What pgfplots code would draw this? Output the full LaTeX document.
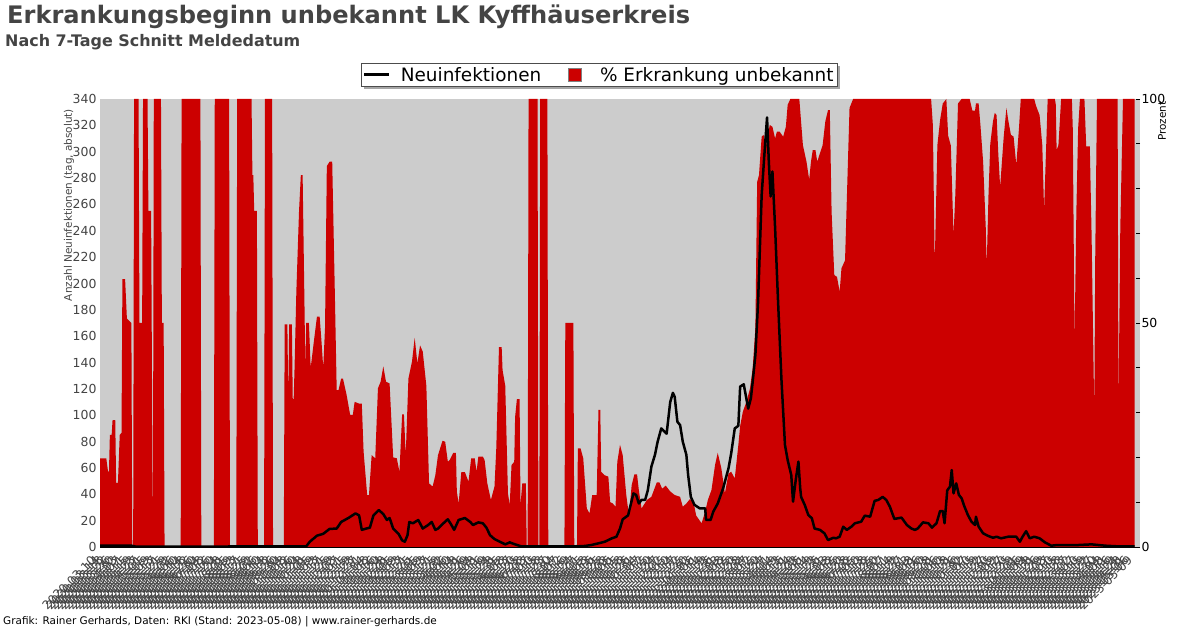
\documentclass[border=0pt]{standalone}
\usepackage{fontspec}
\setmainfont{DejaVu Sans}
\usepackage{pgfplots}
\pgfplotsset{compat=1.18}
\usepackage{pgfplotstable}
\usepackage{pgfcalendar}
\usetikzlibrary{backgrounds}

\definecolor{bg}{HTML}{CCCCCC}
\definecolor{cred}{HTML}{CC0000}
\definecolor{txt}{HTML}{444444}

% day 0 = 2020-03-10
\newcount\startjd
\newcount\curjd
\pgfcalendardatetojulian{2020-03-10}{\startjd}
\newcommand\daylabel[1]{%
  \pgfmathtruncatemacro\dayoff{#1}%
  \curjd=\startjd \advance\curjd by \dayoff\relax
  \pgfcalendarjuliantodate{\the\curjd}{\ly}{\lm}{\ld}%
  \ly-\lm-\ld}

% % Erkrankung unbekannt
\pgfplotstableread{
day pct
0 19.8
2 19.8
7 19.8
9 16.8
10 16.8
11 25
13 25
14 28.3
17 28.3
18 14.3
20 14.3
22 25
24 25.5
25 59.8
28 59.8
30 51
35 50
36 0
37 0
38 100
43 100
44 50
47 50
48 100
53 100
54 75
57 75
59 0
60 100
68 100
69 50
71 50
72 0
90 0
91 100
112 100
113 0
127 0
128 100
144 100
145 0
152 0
153 100
169 100
170 83
171 83
172 75
175 75
176 0
183 0
184 100
192 100
193 0
205 0
206 49.7
209 49.7
210 33
211 49.7
214 49.7
215 33
216 33
217 40
219 57
222 75
224 83
226 83
228 55
229 40
230 50
233 50
235 40
238 45
242 51.4
245 51.4
247 46
249 40
251 49
253 85
256 86
259 86
262 56
264 35
266 35
269 37.6
271 37.6
275 34
279 29.5
282 29.5
284 32.4
289 32
292 32
294 21.3
298 11.6
300 11.6
303 20.5
307 19.8
310 35.4
313 36.9
316 40.3
319 36.9
323 36.5
327 20
331 19.8
334 16.8
337 29.6
339 29.6
341 20.5
344 37.6
348 41.4
351 46.7
354 41
357 45
360 43.6
364 36
367 14.2
371 13.5
374 16
377 20.5
382 23.7
385 23.5
388 19
390 19.4
394 21
397 21
398 12.4
400 9.7
403 16.7
407 16.7
411 14.6
414 19.8
418 19.8
420 16.8
422 20.2
427 20.2
429 19.4
432 14.2
436 10.5
440 13.5
442 22
445 44.6
448 44.6
449 39.5
452 36
455 12
457 9.4
459 18.3
462 19
463 29
465 33
468 33
469 9.4
471 14.2
475 14.2
476 0
477 0
478 100
488 100
489 0
490 0
491 100
499 100
500 0
518 0
519 50
528 50
529 0
532 0
533 22
536 22
539 19.8
543 8.6
546 7.5
549 11.6
554 11.6
556 30.6
558 30.6
559 16.8
563 16
567 15.7
569 10
572 9.7
575 9
577 19
580 22.8
583 20.5
587 11.6
590 7
593 13.8
596 16.2
599 16.2
601 12.7
604 8.6
610 10.5
615 11.2
621 14.4
624 14.4
627 13
631 13.7
636 12.4
641 11.6
647 11.2
650 9
654 9.7
658 10.7
662 10
665 7
671 5.3
675 7.9
678 10.5
682 12.7
686 18.3
689 21
693 17.6
697 12
701 16.4
704 16.8
708 15.3
712 22.8
714 27
717 30.2
721 32.4
725 35.4
728 39.9
731 48.8
733 81.5
735 83
738 91.6
740 92
743 89.7
747 94.2
750 93.8
753 91.2
755 92.7
758 92.7
762 91.6
765 93.8
767 98.7
770 100
780 100
784 89.7
788 86
791 82
793 86
795 88.6
798 88.6
800 86
803 87.9
806 89.7
809 95
812 97.5
814 97.5
816 74.8
819 60.7
822 60.3
825 57
827 62.2
831 64
834 84.5
836 98
840 100
927 100
929 94
931 62.9
934 89.7
937 95.3
940 99
944 100
946 91.8
949 89.6
952 69.6
954 78.6
957 99
961 100
970 100
973 97.4
976 97.4
977 99
980 99
982 94.2
985 86
988 71
989 62.6
991 78.6
993 90
996 95
998 96.9
1000 96.4
1002 87.5
1004 80.4
1006 86
1008 91.6
1011 98
1013 95.3
1016 92
1019 91.6
1022 85.3
1025 93.5
1027 100
1042 100
1044 98.5
1048 96.4
1051 89.7
1053 75.2
1056 93.5
1057 100
1065 100
1066 98.9
1067 88.6
1069 89.7
1072 100
1084 100
1085 93.5
1087 45.8
1089 74.8
1091 93.5
1093 100
1098 100
1100 89.4
1104 89.4
1106 69.6
1109 29.5
1110 63.7
1112 100
1135 100
1136 31
1138 71
1141 100
1154 100
}\pcttable

% Neuinfektionen (7-Tage Schnitt)
\pgfplotstableread{
day n
0 1
35 1
40 0.3
100 0.3
208 0.5
230 0.5
234 4
242 8.6
249 10
256 13.7
264 14
269 19
277 22
285 25.5
289 24
292 13
297 14
301 14.7
305 24
311 28
316 25
320 20.5
323 22
327 14
333 10
337 5
340 4
343 9
345 19
349 18
355 20.5
360 14
366 16.7
370 19
374 13
377 14
381 16.7
387 20.5
388 21
392 16.7
395 13
400 20.5
407 22
413 19
416 16.7
422 18.7
427 18
431 14.7
435 9
440 6
446 4
452 2
457 3.5
463 2
470 0.5
533 0.5
541 0.8
548 1.5
556 2.8
563 4
571 6.6
576 7.8
580 14
583 21
589 24
595 40.7
598 39.5
601 33
604 35.7
608 35.7
611 43
615 61
619 70
622 80
626 90
632 86
636 110
639 117
641 114
644 95
647 92.6
650 80
654 70
656 54.6
659 38
663 32
669 29.3
675 29.3
676 20.5
681 20.5
684 26.8
689 33
695 44.5
701 59.7
704 71
708 90
712 92
714 121.7
718 123.5
723 105
726 113
728 125.5
731 145.7
734 186
738 267
741 297.5
744 326
746 292
748 266
750 285
753 242
756 191
760 128
764 77.4
767 66
771 54.6
773 34.4
776 50.8
779 64.8
781 44.5
782 38
786 32
790 24.3
794 21.8
797 14
803 13
808 10.4
812 5.3
818 7
821 6.6
825 7.8
829 15.4
833 13
838 15.4
842 18
849 19.2
853 23.8
859 23
864 35
868 35.7
873 38
877 35.7
881 30.6
886 21.3
894 22.3
900 16.7
905 14
909 13
912 14
918 18.7
924 18
928 14.7
933 18
937 27.3
940 27.3
942 18
945 43
948 45.8
950 58.4
952 40.7
955 48.3
958 39.5
961 37
964 31
968 24.3
972 19.2
976 16.7
977 23
980 15.4
985 10.4
990 8.6
996 7
1000 7.8
1005 6.6
1013 7.8
1022 7.8
1026 4
1029 7.8
1033 12
1037 6.6
1042 7.8
1048 6.6
1054 3.5
1061 1
1068 1.5
1091 1.5
1106 2
1121 1
1135 0.5
1154 0.5
}\casetable

\begin{document}
\begin{tikzpicture}[x=1bp,y=1bp]
\path[use as bounding box] (0bp,0bp) rectangle (1200bp,628bp);

% titles
\node[anchor=base west, inner sep=0, text=txt, font=\fontsize{24.2}{29}\selectfont\bfseries] at (7bp,604bp) {Erkrankungsbeginn unbekannt LK Kyffhäuserkreis};
\node[anchor=base west, inner sep=0, text=txt, font=\fontsize{16}{19}\selectfont\bfseries] at (5bp,581bp) {Nach 7-Tage Schnitt Meldedatum};
\node[anchor=base west, inner sep=0, font=\fontsize{10.5}{12}\selectfont] at (3bp,4bp) {Grafik: Rainer Gerhards, Daten: RKI (Stand: 2023-05-08) | www.rainer-gerhards.de};

% right axis: percentage (area)
\begin{axis}[
  at={(100bp,81bp)}, anchor=south west,
  scale only axis, width=1040bp, height=448bp,
  xmin=0, xmax=1160, ymin=0, ymax=100,
  axis background/.style={fill=bg},
  axis line style={draw=none},
  xtick=\empty,
  ytick pos=right, yticklabel pos=right,
  ytick={0,50,100}, minor ytick={10,20,...,90},
  tick style={black, line width=0.8pt},
  major tick length=4bp, minor tick length=4bp,
  tick align=inside,
  yticklabel style={font=\fontsize{12.5}{14}\selectfont, text=black, xshift=-2bp},
  /pgf/number format/assume math mode=true,
]
\addplot[fill=cred, draw=none] table[x=day, y=pct] {\pcttable} \closedcycle;
\end{axis}

% left axis: new infections (line)
\begin{axis}[
  at={(100bp,81bp)}, anchor=south west,
  scale only axis, width=1040bp, height=448bp,
  xmin=0, xmax=1160, ymin=0, ymax=340,
  axis line style={draw=none},
  ytick pos=left, xtick pos=bottom,
  ytick={0,20,...,340},
  major tick length=0pt,
  yticklabel style={font=\fontsize{12.5}{14}\selectfont, text=txt},
  /pgf/number format/assume math mode=true,
  xtick={0,4,...,1156},
  xticklabel={\daylabel{\tick}},
  xticklabel style={yshift=-9bp, xshift=-4bp, rotate=45, anchor=east, font=\fontsize{12}{14}\selectfont, text=txt},
  clip=false,
  after end axis/.code={\draw[black, line width=1bp] (rel axis cs:0,0) -- (rel axis cs:1,0);},
  legend style={name=leg, at={(0.480,1.080)}, anchor=north, legend columns=2,
    draw=gray!60!black, fill=white, line width=0.8bp,
    font=\fontsize{18.5}{21}\selectfont, inner sep=1.5bp,
    /tikz/every odd column/.append style={column sep=8bp},
    /tikz/every even column/.append style={column sep=25bp}},
  legend cell align=left,
]
\addlegendimage{legend image code/.code={\draw[black, line width=3bp] (0bp,0bp) -- (25bp,0bp);}}
\addlegendimage{legend image code/.code={\draw[fill=cred, draw=gray, line width=0.8bp] (0bp,-6.5bp) rectangle (13bp,6.5bp); \path (21bp,0bp);}}
\addplot[black, line width=2.5bp, line join=round, forget plot] table[x=day, y=n] {\casetable};
\legend{Neuinfektionen, \% Erkrankung unbekannt}
\end{axis}

% legend shadow
\begin{pgfonlayer}{background}
\fill[black, opacity=0.35] ([shift={(3bp,-3bp)}]leg.south west) rectangle ([shift={(3bp,-3bp)}]leg.north east);
\end{pgfonlayer}

% axis titles
\node[rotate=90, text=txt, font=\fontsize{10.5}{12}\selectfont] at (69bp,423bp) {Anzahl Neuinfektionen (tag, absolut)};
\node[rotate=90, font=\fontsize{10.5}{12}\selectfont] at (1162bp,507bp) {Prozent};
\end{tikzpicture}
\end{document}
